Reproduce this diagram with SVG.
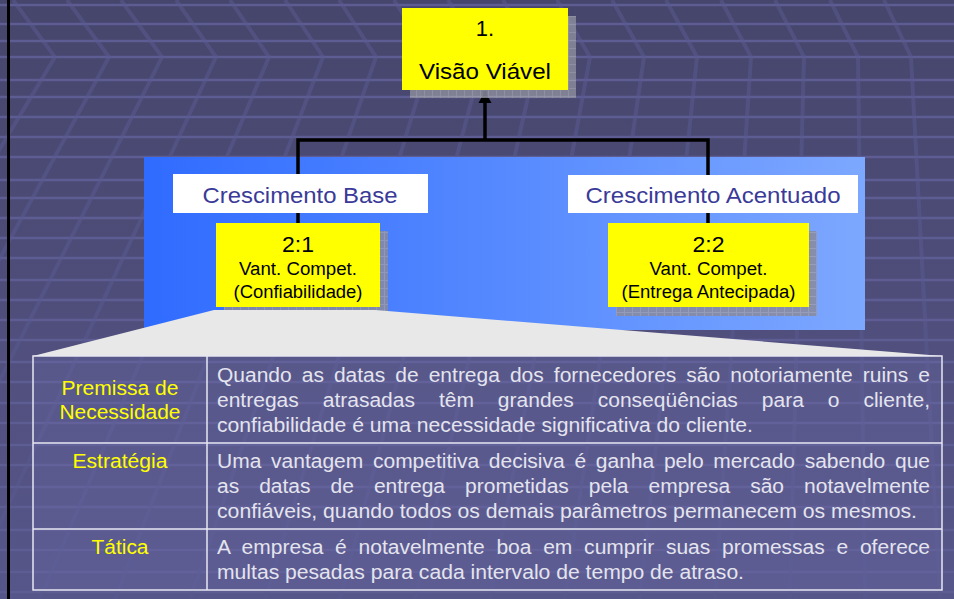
<svg xmlns="http://www.w3.org/2000/svg" width="954" height="599" viewBox="0 0 954 599">
<defs>
<linearGradient id="bg" x1="0" y1="0" x2="0" y2="1">
<stop offset="0" stop-color="#46456B"/>
<stop offset="1" stop-color="#57568A"/>
</linearGradient>
<linearGradient id="panel" x1="0" y1="0" x2="1" y2="0">
<stop offset="0" stop-color="#2F6BFF"/>
<stop offset="1" stop-color="#7DA8FF"/>
</linearGradient>
<pattern id="shadowgrid" width="8" height="8" patternUnits="userSpaceOnUse">
<rect width="8" height="8" fill="#8A8A9C"/>
<path d="M0,0.5 H8 M0.5,0 V8" stroke="#9C9CAC" stroke-width="1"/>
</pattern>
<marker id="arrow" markerUnits="userSpaceOnUse" markerWidth="14" markerHeight="14" refX="12" refY="7" orient="auto">
<path d="M0,0.5 L12,7 L0,13.5 Z" fill="#000"/>
</marker>
<style>
.hl{stroke:#5E5D93;stroke-width:2.5}
.dg{stroke:#5A5990;stroke-width:4;fill:none;opacity:0.55}
.conn{stroke:#000;stroke-width:3.5;fill:none}
.yel{fill:#FFFF00}
.shadow{fill:url(#shadowgrid);opacity:0.85}
.wbox{fill:#FFFFFF}
.wtxt{font-family:"Liberation Sans",Arial,sans-serif;font-size:22px;fill:#3A3A98;text-anchor:middle}
.btxt{font-family:"Liberation Sans",Arial,sans-serif;fill:#000;text-anchor:middle}
.lbl{font-family:"Liberation Sans",Arial,sans-serif;font-size:19.5px;fill:#FFFF00;text-anchor:middle}
.body{font-family:"Liberation Sans",Arial,sans-serif;font-size:19.5px;fill:#E4E4EE}
.tb{stroke:#E6E6F2;stroke-width:1.5;fill:none}
</style>
</defs>

<!-- background -->
<rect width="954" height="599" fill="url(#bg)"/>
<g id="bg-lines">
<path class="hl" d="M0,5H954M0,24H954M0,41H954M0,57H954M0,80H954M0,97H954M0,117H954M0,137H954M0,157H954M0,180H954M0,198H954M0,218H954M0,238H954M0,258H954M0,280H954M0,300H954M0,320H954M0,340H954M0,362H954M0,382H954M0,403H954M0,423H954M0,445H954M0,465H954M0,487H954M0,507H954M0,530H954M0,550H954M0,572H954M0,592H954"/>
<path class="dg" d="M13,0L55,57L-270,599 M67,0L109,57L-185,599 M121,0L162,57L-110,599 M176,0L216,57L-35,599 M230,0L269,57L40,599 M285,0L323,57L115,599 M339,0L376,57L190,599 M394,0L430,57L265,599 M448,0L483,57L340,599 M503,0L537,57L415,599 M557,0L590,57L490,599 M612,0L644,57L565,599 M666,0L697,57L640,599 M721,0L751,57L715,599 M775,0L804,57L790,599 M830,0L858,57L865,599 M884,0L911,57L940,599"/>
</g>
<rect x="7" y="0" width="3" height="599" fill="#000"/>

<!-- blue panel -->
<rect id="panel-rect" x="144" y="157" width="721" height="173" fill="url(#panel)"/>

<!-- connectors -->
<g id="connectors">
<path class="conn" d="M298,225 V140 H708 V225"/>
<path class="conn" d="M485,140 V91" marker-end="url(#arrow)"/>
</g>

<!-- node 1 -->
<g id="node-1">
<rect class="shadow" x="410" y="16" width="166" height="82"/>
<rect class="yel" x="402" y="8" width="166" height="82"/>
<text class="btxt" x="485" y="36" font-size="22">1.</text>
<text class="btxt" x="485" y="79" font-size="22" textLength="132" lengthAdjust="spacingAndGlyphs">Visão Viável</text>
</g>

<!-- section labels -->
<g id="label-base">
<rect class="wbox" x="173" y="174" width="255" height="39"/>
<text class="wtxt" x="300" y="203" textLength="195" lengthAdjust="spacingAndGlyphs">Crescimento Base</text>
</g>
<g id="label-acentuado">
<rect class="wbox" x="568" y="175" width="290" height="38"/>
<text class="wtxt" x="713" y="203" textLength="255" lengthAdjust="spacingAndGlyphs">Crescimento Acentuado</text>
</g>

<!-- node 2:2 -->
<g id="node-2-2">
<rect class="shadow" x="616" y="231" width="201" height="85"/>
<rect class="yel" x="608" y="223" width="201" height="84"/>
<text class="btxt" x="708.5" y="252" font-size="22" textLength="32" lengthAdjust="spacingAndGlyphs">2:2</text>
<text class="btxt" x="708.5" y="275" font-size="18" textLength="118" lengthAdjust="spacingAndGlyphs">Vant. Compet.</text>
<text class="btxt" x="708.5" y="298" font-size="18" textLength="174" lengthAdjust="spacingAndGlyphs">(Entrega Antecipada)</text>
</g>

<!-- node 2:1 with callout -->
<g id="node-2-1">
<rect class="shadow" x="224" y="231" width="164" height="85"/>
<polygon points="214,310 375,310 942,356 33,356" fill="#E8E8E8"/>
<rect class="yel" x="216" y="223" width="164" height="84"/>
<text class="btxt" x="298" y="252" font-size="22" textLength="32" lengthAdjust="spacingAndGlyphs">2:1</text>
<text class="btxt" x="298" y="275" font-size="18" textLength="118" lengthAdjust="spacingAndGlyphs">Vant. Compet.</text>
<text class="btxt" x="298" y="298" font-size="18" textLength="129" lengthAdjust="spacingAndGlyphs">(Confiabilidade)</text>
</g>

<!-- detail table -->
<g id="table">
<rect x="33" y="356" width="909" height="234" fill="#7070B0" opacity="0.25"/>
<rect class="tb" x="33" y="356" width="909" height="234"/>
<path class="tb" d="M207,356V590 M33,443H942 M33,529H942"/>

<text class="lbl" x="120" y="395" textLength="117" lengthAdjust="spacingAndGlyphs">Premissa de</text>
<text class="lbl" x="120" y="419" textLength="121" lengthAdjust="spacingAndGlyphs">Necessidade</text>
<text class="lbl" x="120" y="468" textLength="95" lengthAdjust="spacingAndGlyphs">Estratégia</text>
<text class="lbl" x="120" y="554" textLength="57" lengthAdjust="spacingAndGlyphs">Tática</text>

<text class="body" x="217" y="382" textLength="713" lengthAdjust="spacingAndGlyphs" word-spacing="3.9">Quando as datas de entrega dos fornecedores são notoriamente ruins e</text>
<text class="body" x="217" y="407" textLength="713" lengthAdjust="spacingAndGlyphs" word-spacing="16.8">entregas atrasadas têm grandes conseqüências para o cliente,</text>
<text class="body" x="217" y="432" textLength="536" lengthAdjust="spacingAndGlyphs">confiabilidade é uma necessidade significativa do cliente.</text>

<text class="body" x="217" y="468" textLength="713" lengthAdjust="spacingAndGlyphs" word-spacing="3.6">Uma vantagem competitiva decisiva é ganha pelo mercado sabendo que</text>
<text class="body" x="217" y="493" textLength="713" lengthAdjust="spacingAndGlyphs" word-spacing="13.2">as datas de entrega prometidas pela empresa são notavelmente</text>
<text class="body" x="217" y="518" textLength="700" lengthAdjust="spacingAndGlyphs">confiáveis, quando todos os demais parâmetros permanecem os mesmos.</text>

<text class="body" x="217" y="554" textLength="713" lengthAdjust="spacingAndGlyphs" word-spacing="5.5">A empresa é notavelmente boa em cumprir suas promessas e oferece</text>
<text class="body" x="217" y="579" textLength="527" lengthAdjust="spacingAndGlyphs">multas pesadas para cada intervalo de tempo de atraso.</text>
</g>
</svg>
